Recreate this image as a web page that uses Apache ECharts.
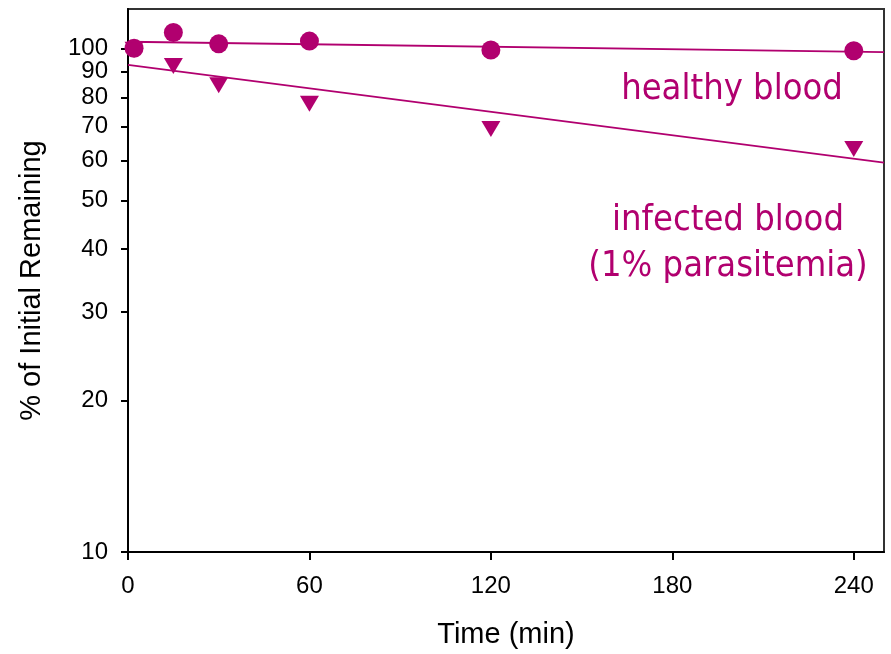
<!DOCTYPE html>
<html>
<head>
<meta charset="utf-8">
<script src="https://cdn.jsdelivr.net/npm/echarts@6/dist/echarts.min.js"></script>
<style>
	html, body { margin: 0; padding: 0; background: #fff; }
	#chart { width: 891px; height: 654px; }
</style>
</head>
<body>
<div id="chart"></div>
<script>
// measured points (minutes, % of initial remaining)
var times = [2, 15, 30, 60, 120, 240]
var healthy = [100.3, 107.8, 102.3, 103.6, 99.5, 99.1]
var infected = [99.6, 92.5, 84.7, 77.8, 69.3, 63.2]

// exponential fit lines, end points
var fitTimes = [0, 250]
var healthyFit = [103.3, 98.5]
var infectedFit = [92.9, 59.4]

var xTicks = [0, 60, 120, 180, 240]
var yTicks = [10, 20, 30, 40, 50, 60, 70, 80, 90, 100]
// 90 sits too close to 100, echarts drops it, so it goes on an overlay axis
var yLabels = [10, 20, 30, 40, 50, 60, 70, 80, 100]
var yLabelsExtra = [90]

var magenta = '#b1006f'

function pairs(xs, ys) {
	return xs.map(function (x, i) { return [x, ys[i]] })
}

var labelStyle = {
	margin: 20,
	fontFamily: 'Liberation Sans',
	fontSize: 24,
	color: '#000',
	hideOverlap: false,
	showMinLabel: true,
	showMaxLabel: true
}

var chart = echarts.init(document.getElementById('chart'))
chart.setOption({
	animation: false,
	grid: {
		left: 128,
		right: 7,
		top: 9,
		bottom: 102,
		show: true,
		borderColor: '#333',
		borderWidth: 2,
		backgroundColor: 'transparent'
	},
	xAxis: {
		type: 'value',
		min: 0,
		max: 250,
		name: 'Time (min)',
		nameLocation: 'middle',
		nameGap: 68,
		nameTextStyle: { fontFamily: 'Liberation Sans', fontSize: 29, color: '#000' },
		axisLine: { lineStyle: { color: '#000', width: 2 } },
		axisTick: { length: 8, lineStyle: { color: '#000', width: 2 }, customValues: xTicks },
		axisLabel: { margin: 22, fontFamily: 'Liberation Sans', fontSize: 24, color: '#000', customValues: xTicks },
		splitLine: { show: false }
	},
	yAxis: [
		{
			type: 'log',
			logBase: 10,
			min: 10,
			max: 120,
			name: '% of Initial Remaining',
			nameLocation: 'middle',
			nameGap: 82,
			nameTextStyle: { fontFamily: 'Liberation Sans', fontSize: 29, color: '#000' },
			axisLine: { lineStyle: { color: '#000', width: 2 } },
			axisTick: { length: 7, lineStyle: { color: '#000', width: 2 }, customValues: yTicks },
			axisLabel: Object.assign({ customValues: yLabels }, labelStyle),
			splitLine: { show: false }
		},
		{
			type: 'log',
			logBase: 10,
			min: 10,
			max: 120,
			position: 'left',
			axisLine: { show: false },
			axisTick: { show: false },
			axisLabel: Object.assign({ customValues: yLabelsExtra }, labelStyle),
			splitLine: { show: false }
		}
	],
	graphic: [
		{
			type: 'text',
			x: 732,
			y: 90,
			style: {
				text: 'healthy blood',
				fill: magenta,
				font: '36px "DejaVu Sans Condensed", "DejaVu Sans"',
				align: 'center',
				verticalAlign: 'middle'
			}
		},
		{
			type: 'text',
			x: 728,
			y: 244,
			style: {
				text: 'infected blood\n(1% parasitemia)',
				fill: magenta,
				font: '36px "DejaVu Sans Condensed", "DejaVu Sans"',
				lineHeight: 46,
				align: 'center',
				verticalAlign: 'middle'
			}
		}
	],
	series: [
		{
			name: 'infected fit',
			type: 'line',
			data: pairs(fitTimes, infectedFit),
			symbol: 'none',
			lineStyle: { color: magenta, width: 1.8 }
		},
		{
			name: 'healthy fit',
			type: 'line',
			data: pairs(fitTimes, healthyFit),
			symbol: 'none',
			lineStyle: { color: magenta, width: 1.8 }
		},
		{
			name: 'infected blood',
			type: 'scatter',
			data: pairs(times, infected),
			symbol: 'triangle',
			symbolRotate: 180,
			symbolSize: [19, 16],
			itemStyle: { color: magenta, opacity: 1 }
		},
		{
			name: 'healthy blood',
			type: 'scatter',
			data: pairs(times, healthy),
			symbol: 'circle',
			symbolSize: 19,
			itemStyle: { color: magenta, opacity: 1 }
		}
	]
})
</script>
</body>
</html>
